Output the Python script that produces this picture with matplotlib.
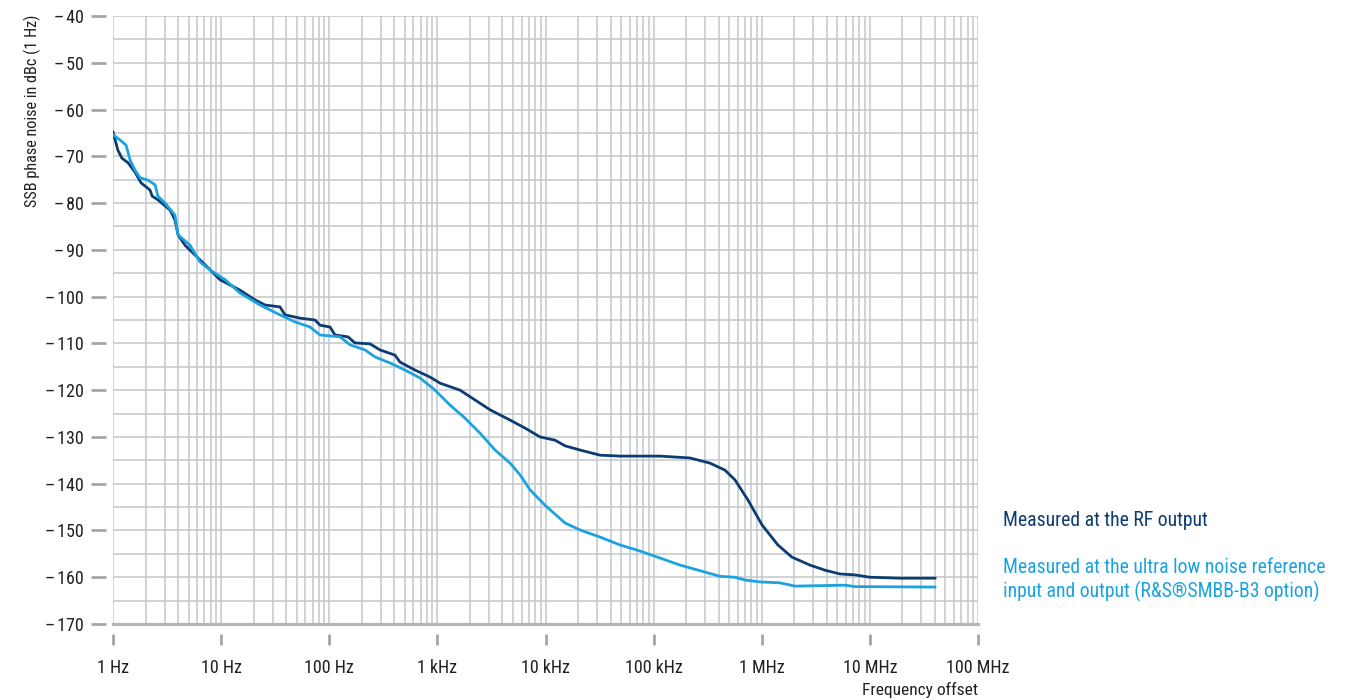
import matplotlib
matplotlib.use('Agg')
import matplotlib.pyplot as plt
import matplotlib.font_manager as fm
from matplotlib.ticker import FixedLocator, LogLocator, NullFormatter

# pick a narrow / condensed sans if one is installed (reference uses a condensed face)
picked = None
for want in ['Liberation Sans Narrow', 'Roboto Condensed', 'Open Sans Condensed',
             'Noto Sans Condensed', 'DejaVu Sans Condensed']:
    for f in fm.fontManager.ttflist:
        if f.name == want and f.style == 'normal' and f.weight in (400, 'normal', 'regular'):
            picked = f
            break
    if picked:
        break
if picked is None:
    for f in fm.fontManager.ttflist:
        if f.stretch in ('condensed', 'semi-condensed') and f.style == 'normal' \
                and f.weight in (400, 'normal', 'regular'):
            picked = f
            break
if picked is not None:
    plt.rcParams['font.family'] = [picked.name, 'DejaVu Sans']
    plt.rcParams['font.stretch'] = picked.stretch
else:
    plt.rcParams['font.family'] = ['DejaVu Sans']

# Measured at the RF output (frequency offset in Hz, SSB noise in dBc)
rf_freq = [1, 1.11, 1.21, 1.38, 1.6, 1.82, 2.2, 2.3, 2.6, 3.37, 3.74, 4.0, 4.63,
           5.73, 7.1, 9.77, 14.9, 20.6, 25.5, 35, 39, 53.6, 73.8, 82, 101.6, 113,
           149, 173, 238, 295, 405, 451, 621, 855, 1057, 1619, 2230, 3070, 4700,
           6460, 8900, 12250, 15150, 20850, 31900, 48900, 114600, 217000, 332000,
           457000, 566000, 746000, 1.005e6, 1.41e6, 1.9e6, 2.79e6, 3.85e6, 5.29e6,
           7.28e6, 1.0e7, 1.9e7, 4.0e7]
rf_noise = [-64.8, -68.7, -70.4, -71.4, -73.4, -75.7, -77.2, -78.5, -79.3, -81.5,
            -83.6, -86.8, -89.0, -91.1, -93.2, -96.4, -98.6, -100.7, -101.8,
            -102.2, -103.9, -104.6, -105.0, -106.1, -106.5, -108.2, -108.6,
            -109.9, -110.1, -111.4, -112.5, -114.0, -115.7, -117.2, -118.5,
            -120.0, -122.1, -124.2, -126.4, -128.1, -130.0, -130.7, -131.9,
            -132.8, -133.9, -134.1, -134.1, -134.5, -135.6, -137.1, -139.2,
            -143.5, -148.8, -153.1, -155.7, -157.4, -158.5, -159.3, -159.5,
            -160.0, -160.2, -160.2]

# Measured at the ultra low noise reference input and output
ref_freq = [1, 1.16, 1.32, 1.44, 1.6, 1.78, 2.11, 2.45, 2.6, 3.03, 3.74, 4.0,
            5.15, 6.38, 7.89, 10.9, 14.9, 22.9, 35, 48.2, 66.4, 82, 125.7, 155.5,
            214, 265, 365, 502, 691, 951, 1310, 1803, 2480, 3412, 4700, 5810,
            7190, 9890, 15150, 20850, 31900, 48900, 74800, 114600, 175400,
            298500, 411000, 566000, 700000, 964000, 1.475e6, 2.03e6, 5.89e6,
            7.28e6, 4.0e7]
ref_noise = [-65.4, -66.5, -67.6, -70.8, -73.0, -74.6, -75.1, -76.1, -78.5, -80.0,
             -82.6, -86.8, -89.0, -92.6, -94.3, -96.4, -99.2, -101.8, -103.9,
             -105.4, -106.5, -108.2, -108.6, -110.3, -111.4, -112.9, -114.2,
             -115.7, -117.4, -120.0, -123.2, -126.0, -129.2, -132.8, -135.6,
             -138.1, -141.3, -144.6, -148.4, -149.9, -151.4, -153.1, -154.4,
             -155.9, -157.4, -158.9, -159.8, -160.0, -160.6, -161.0, -161.2,
             -161.9, -161.7, -162.0, -162.1]

x_ticks = [1, 10, 100, 1e3, 1e4, 1e5, 1e6, 1e7, 1e8]
x_labels = ['1 Hz', '10 Hz', '100 Hz', '1 kHz', '10 kHz', '100 kHz',
            '1 MHz', '10 MHz', '100 MHz']
y_ticks = list(range(-170, -39, 10))

dark = '#0c3c70'
light = '#1ba3e0'
grid = '#c3c7cb'
tickc = '#a3a7ab'
textc = '#231f20'

fig = plt.figure(figsize=(13.58, 7.0), dpi=100)
ax = fig.add_axes([113 / 1358, 1 - 624 / 700, 865 / 1358, 608 / 700])

ax.plot(rf_freq, rf_noise, color=dark, lw=2.0, zorder=3)
ax.plot(ref_freq, ref_noise, color=light, lw=2.0, zorder=3)

ax.set_xscale('log')
ax.set_xlim(1, 1e8)
ax.set_ylim(-170, -40)

ax.xaxis.set_major_locator(FixedLocator(x_ticks))
ax.set_xticklabels(x_labels)
ax.xaxis.set_minor_locator(LogLocator(base=10, subs=range(2, 10), numticks=100))
ax.xaxis.set_minor_formatter(NullFormatter())
ax.yaxis.set_major_locator(FixedLocator(y_ticks))
ax.set_yticklabels(['\u2013\u200a' + str(-v) for v in y_ticks])
ax.yaxis.set_minor_locator(FixedLocator(range(-165, -40, 10)))

ax.grid(True, which='both', color=grid, lw=1.1)
ax.set_axisbelow(True)
for s in ax.spines.values():
    s.set_visible(False)
ax.spines['left'].set_position(('outward', 5))
ax.spines['bottom'].set_position(('outward', 7))
ax.axhline(-170, color='#b3b7bb', lw=2.3, zorder=2, clip_on=False)

ax.tick_params(axis='y', which='major', length=11, width=2.0, color=tickc,
               pad=5, labelsize=13, labelcolor=textc)
ax.tick_params(axis='x', which='major', length=8, width=2.0, color=tickc,
               pad=10, labelsize=13, labelcolor=textc)
ax.tick_params(which='minor', length=0)

ax.set_ylabel('SSB phase noise in dBc (1 Hz)', fontsize=11.7, color=textc)
ax.yaxis.set_label_coords(-0.083, 1.003)
ax.yaxis.label.set_va('bottom')
ax.yaxis.label.set_ha('right')
fig.text(978 / 1358, 1 - 690 / 700, 'Frequency offset', fontsize=12.5,
         color=textc, ha='right', va='center')

fig.text(1003 / 1358, 1 - 520 / 700, 'Measured at the RF output',
         fontsize=14.2, color=dark, ha='left', va='center')
fig.text(1003 / 1358, 1 - 580 / 700,
         'Measured at the ultra low noise reference\n'
         'input and output (R&S\u00aeSMBB-B3 option)',
         fontsize=14.2, color=light, ha='left', va='center', linespacing=1.2)

fig.savefig('out.png', dpi=100)
